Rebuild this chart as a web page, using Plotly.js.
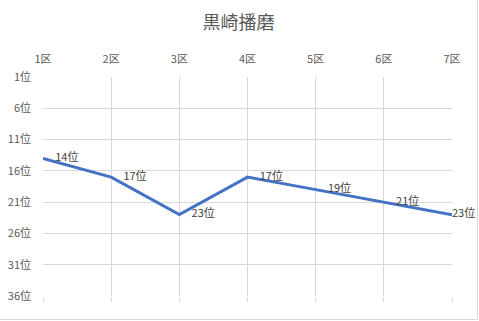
<!DOCTYPE html>
<html>
<head>
<meta charset="utf-8">
<script src="https://cdn.plot.ly/plotly-3.0.1.min.js"></script>
<style>
html,body{margin:0;padding:0;background:#fff;}
#chart{width:477px;height:319px;border-right:1px solid #d9d9d9;border-bottom:1px solid #d9d9d9;}
</style>
</head>
<body>
<div id="chart"></div>
<script>
const categories = ["1区","2区","3区","4区","5区","6区","7区"];
const ranks = [14, 17, 23, 17, 19, 21, 23];
const rankLabels = ["14位","17位","23位","17位","19位","21位","23位"];
const yTickVals = [1, 6, 11, 16, 21, 26, 31, 36];
const yTickText = ["1位","6位","11位","16位","21位","26位","31位","36位"];

const font = "'Noto Sans CJK JP', 'Noto Sans', sans-serif";
const markerSizes = categories.map((c, i) => i === categories.length - 1 ? 0 : 18);

const traces = [
  {
    x: categories, y: ranks, type: "scatter", mode: "lines+markers+text",
    text: rankLabels, textposition: "middle right",
    textfont: {family: font, size: 11, color: "#404040"},
    line: {color: "#4472C4", width: 3},
    marker: {size: markerSizes, color: "rgba(0,0,0,0)", line: {width: 0, color: "rgba(0,0,0,0)"}},
    hoverinfo: "skip", cliponaxis: false
  },
  {
    x: categories, y: ranks, xaxis: "x2", type: "scatter", mode: "none",
    hoverinfo: "skip", showlegend: false
  }
];

const layout = {
  width: 477, height: 319,
  margin: {l: 43, r: 25, t: 77, b: 23},
  paper_bgcolor: "#fff", plot_bgcolor: "#fff",
  showlegend: false,
  title: {text: "黒崎播磨", font: {family: font, size: 18, color: "#595959"}, x: 0.5, xanchor: "center", y: 0.93, yanchor: "middle"},
  xaxis: {
    type: "category", side: "top", range: [0, 6],
    showgrid: true, gridcolor: "#d9d9d9", gridwidth: 1,
    ticks: "", showline: false, zeroline: false,
    tickfont: {family: font, size: 11, color: "#595959"},
    ticklabelstandoff: 11, fixedrange: true
  },
  xaxis2: {
    type: "category", overlaying: "x", side: "bottom", range: [0, 6],
    showgrid: false, showticklabels: false, ticks: "outside", ticklen: 5,
    tickcolor: "#d9d9d9", tickwidth: 1, showline: false, zeroline: false
  },
  yaxis: {
    range: [36, 1], tickvals: yTickVals, ticktext: yTickText,
    showgrid: true, gridcolor: "#d9d9d9", gridwidth: 1,
    ticks: "", showline: false, zeroline: false,
    tickfont: {family: font, size: 11, color: "#595959"},
    ticklabelstandoff: 11, fixedrange: true
  }
};

Plotly.newPlot("chart", traces, layout, {displayModeBar: false, staticPlot: true});
</script>
</body>
</html>
